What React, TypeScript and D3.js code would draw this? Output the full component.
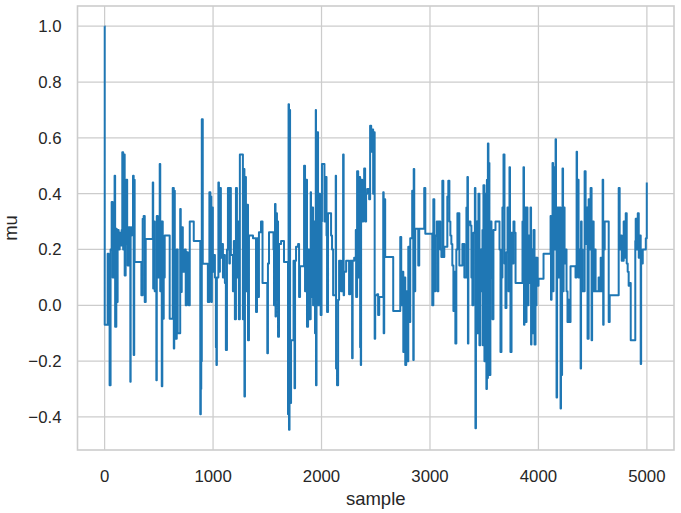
import React from "react";
import * as d3 from "d3";

// Trace of mu: sample index at which the chain moves, and the new value
const traceSample = [
  0, 1, 28, 37, 46, 55, 65, 74, 83, 92, 97, 108, 111, 120, 129, 139, 148, 157, 163, 171,
  176, 185, 194, 200, 208, 213, 222, 237, 240, 250, 262, 268, 273, 277, 339, 351, 360, 370, 379, 444,
  448, 453, 462, 477, 481, 490, 499, 508, 513, 517, 527, 532, 536, 545, 554, 600, 628, 638, 642, 647,
  656, 665, 674, 697, 702, 711, 721, 739, 748, 758, 767, 776, 785, 822, 882, 887, 891, 896, 905, 952,
  966, 975, 980, 984, 989, 998, 1008, 1017, 1026, 1031, 1035, 1049, 1054, 1063, 1072, 1082, 1091, 1100, 1109, 1118,
  1128, 1137, 1150, 1155, 1164, 1183, 1192, 1201, 1211, 1220, 1229, 1238, 1247, 1275, 1280, 1289, 1294, 1303, 1312, 1322,
  1331, 1368, 1396, 1405, 1419, 1423, 1442, 1456, 1500, 1506, 1516, 1557, 1562, 1571, 1576, 1580, 1589, 1594, 1599, 1608,
  1627, 1654, 1691, 1696, 1700, 1705, 1710, 1719, 1742, 1751, 1756, 1765, 1784, 1793, 1802, 1839, 1848, 1857, 1866, 1876,
  1885, 1900, 1903, 1912, 1922, 1931, 1940, 1947, 1949, 1954, 1959, 1968, 1977, 1986, 1992, 2000, 2004, 2027, 2036, 2046,
  2051, 2060, 2088, 2097, 2107, 2131, 2134, 2143, 2153, 2162, 2180, 2190, 2199, 2204, 2208, 2227, 2254, 2264, 2282, 2287,
  2301, 2316, 2319, 2328, 2338, 2347, 2356, 2362, 2365, 2375, 2384, 2393, 2402, 2411, 2421, 2439, 2448, 2458, 2467, 2476,
  2485, 2490, 2495, 2513, 2522, 2532, 2569, 2573, 2578, 2587, 2661, 2726, 2735, 2744, 2754, 2763, 2772, 2781, 2791, 2800,
  2809, 2818, 2836, 2846, 2850, 2855, 2864, 2892, 2901, 2947, 2957, 3021, 3031, 3040, 3049, 3063, 3068, 3077, 3095, 3105,
  3114, 3123, 3132, 3160, 3169, 3179, 3188, 3197, 3206, 3216, 3225, 3234, 3243, 3253, 3271, 3299, 3317, 3336, 3345, 3350,
  3354, 3373, 3382, 3391, 3400, 3414, 3419, 3424, 3428, 3437, 3447, 3456, 3465, 3474, 3484, 3488, 3493, 3502, 3511, 3520,
  3525, 3530, 3534, 3539, 3544, 3548, 3557, 3567, 3576, 3585, 3604, 3641, 3650, 3659, 3668, 3678, 3687, 3696, 3705, 3715,
  3724, 3733, 3738, 3742, 3752, 3761, 3770, 3779, 3789, 3853, 3862, 3867, 3871, 3881, 3890, 3899, 3908, 3918, 3927, 3932,
  3936, 3945, 3955, 3964, 3973, 3978, 3982, 3992, 4001, 4047, 4112, 4116, 4121, 4130, 4135, 4139, 4149, 4158, 4162, 4167,
  4172, 4176, 4185, 4195, 4204, 4208, 4213, 4218, 4222, 4227, 4232, 4241, 4250, 4259, 4268, 4278, 4287, 4296, 4342, 4352,
  4356, 4361, 4370, 4379, 4389, 4393, 4398, 4407, 4426, 4435, 4444, 4453, 4463, 4472, 4481, 4490, 4495, 4509, 4518, 4527,
  4555, 4565, 4574, 4583, 4592, 4597, 4601, 4611, 4648, 4657, 4740, 4749, 4758, 4768, 4786, 4795, 4805, 4814, 4823, 4832,
  4842, 4851, 4893, 4897, 4906, 4916, 4925, 4934, 4943, 4947, 4952, 4962, 4990, 4999,
];

const traceMu = [
  1.0, -0.07, 0.185, -0.07, -0.286, 0.2, 0.37, 0.1, 0.33, 0.464, -0.077, 0.274, 0.012, 0.27, 0.2, 0.26, 0.214, 0.27, 0.548, 0.2,
  0.54, 0.107, 0.3, 0.45, 0.22, 0.143, 0.28, -0.274, 0.25, 0.28, 0.464, -0.178, 0.45, 0.155, 0.036, 0.31, 0.32, 0.012, 0.238, 0.44,
  0.06, 0.3, 0.05, -0.268, 0.32, 0.1, 0.25, 0.506, 0.05, 0.3, -0.29, 0.3, -0.048, 0.1, 0.25, -0.048, 0.42, -0.155, 0.41, 0.1,
  -0.12, 0.2, -0.1, 0.345, 0.048, 0.28, 0.12, 0.2, 0.0, 0.19, 0.1, 0.0, 0.3, 0.23, -0.39, -0.3, -0.2, 0.667, 0.149, 0.012,
  0.405, 0.1, 0.39, 0.012, 0.35, 0.12, 0.18, 0.1, -0.15, -0.214, 0.1, 0.44, 0.12, 0.42, 0.17, 0.22, 0.1, 0.18, 0.08, -0.16,
  0.2, 0.42, 0.15, 0.42, 0.18, 0.05, 0.23, -0.05, 0.42, 0.1, 0.3, -0.05, 0.54, -0.05, 0.488, -0.327, 0.46, 0.05, 0.36, -0.125,
  0.25, 0.24, -0.024, 0.24, 0.03, 0.262, 0.3, 0.08, -0.172, 0.15, 0.262, 0.2, 0.0, 0.363, -0.04, 0.33, 0.02, 0.3, -0.113, 0.22,
  0.23, 0.155, -0.39, 0.72, -0.446, 0.7, -0.35, -0.125, 0.16, -0.297, 0.16, 0.21, 0.22, 0.03, 0.14, 0.5, 0.05, 0.45, -0.077, 0.2,
  -0.05, 0.405, 0.03, 0.35, 0.0, 0.3, -0.1, 0.7, -0.286, 0.35, 0.62, 0.0, 0.4, 0.05, -0.035, 0.3, 0.506, 0.3, 0.46, 0.25,
  -0.024, 0.33, 0.25, 0.2, 0.036, 0.464, -0.226, -0.286, 0.02, 0.16, 0.05, 0.16, 0.54, 0.036, 0.12, 0.16, 0.04, 0.16, -0.19, 0.16,
  0.17, 0.27, 0.03, 0.48, 0.1, 0.46, -0.15, -0.214, 0.45, 0.3, 0.35, 0.49, 0.3, 0.4, 0.417, 0.38, 0.643, 0.55, 0.63, 0.4,
  0.62, -0.12, 0.036, 0.04, -0.035, 0.03, 0.405, -0.1, 0.38, 0.173, -0.02, 0.245, 0.0, 0.12, -0.167, 0.1, -0.214, 0.05, -0.2, 0.21,
  -0.06, 0.24, 0.41, -0.196, 0.488, 0.05, 0.274, 0.143, 0.274, 0.42, 0.256, 0.0, 0.38, 0.05, 0.25, 0.3, 0.05, 0.3, 0.2, 0.173,
  0.446, 0.173, 0.21, 0.39, 0.446, 0.3, 0.25, 0.22, 0.143, -0.02, 0.12, -0.137, 0.2, 0.33, 0.143, 0.22, 0.1, 0.35, 0.46, -0.137,
  0.3, 0.286, 0.1, 0.0, 0.26, 0.42, -0.44, 0.1, 0.3, -0.1, 0.4, -0.143, 0.2, 0.05, 0.27, -0.143, 0.43, -0.2, 0.4, -0.3,
  0.45, -0.26, 0.58, 0.1, 0.51, -0.25, 0.3, 0.1, -0.05, 0.27, 0.3, 0.2, -0.167, 0.1, 0.35, 0.54, 0.15, -0.01, 0.19, 0.35,
  0.05, 0.495, 0.1, -0.167, 0.26, 0.15, 0.3, 0.26, 0.08, 0.3, 0.495, -0.07, 0.35, -0.06, 0.35, 0.0, 0.25, 0.08, 0.35, -0.14,
  0.2, -0.1, 0.27, -0.14, 0.17, 0.0, 0.17, 0.07, 0.095, 0.185, 0.32, 0.02, 0.3, 0.51, 0.05, 0.495, 0.2, 0.595, 0.25, -0.33,
  0.33, 0.35, 0.1, 0.35, -0.37, 0.2, -0.25, 0.3, 0.49, 0.05, 0.35, 0.15, 0.2, 0.05, -0.06, 0.02, -0.06, 0.14, 0.1, 0.55,
  0.2, 0.45, 0.1, 0.2, -0.226, 0.3, 0.2, 0.05, 0.48, 0.22, 0.35, -0.12, 0.38, 0.2, 0.42, -0.125, 0.3, 0.05, 0.2, 0.05,
  0.1, 0.05, 0.17, 0.05, 0.45, -0.07, 0.2, 0.3, -0.06, 0.036, 0.42, 0.2, 0.25, 0.16, 0.3, 0.17, 0.33, 0.15, 0.12, 0.07,
  0.08, -0.125, 0.23, 0.31, 0.2, 0.33, 0.17, 0.25, -0.21, 0.2, 0.15, 0.2, 0.24, 0.44,
];

const xTicks = [0, 1000, 2000, 3000, 4000, 5000];
const yTicks = [-0.4, -0.2, 0.0, 0.2, 0.4, 0.6, 0.8, 1.0];
const xLabel = "sample";
const yLabel = "mu";

const W = 681;
const H = 513;
const plotLeft = 77.5;
const plotRight = 674;
const plotTop = 6;
const plotBottom = 450;

export default function App() {
  const points: [number, number][] = traceSample.map((s, i) => [s, traceMu[i]]);
  const xMin = d3.min(traceSample)!;
  const xMax = d3.max(traceSample)! + 1;
  const xPad = (xMax - xMin) * 0.05;
  const yMin = d3.min(traceMu)!;
  const yMax = d3.max(traceMu)!;
  const yPad = (yMax - yMin) * 0.05;

  const x = d3.scaleLinear().domain([xMin - xPad, xMax + xPad]).range([plotLeft, plotRight]);
  const y = d3.scaleLinear().domain([yMin - yPad, yMax + yPad]).range([plotBottom, plotTop]);

  const line = d3
    .line<[number, number]>()
    .x((d) => x(d[0]))
    .y((d) => y(d[1]))
    .curve(d3.curveStepAfter);

  const font = "'Liberation Sans', Arial, sans-serif";
  const textColor = "#262626";
  const gridColor = "#cccccc";
  const fmt = (v: number) => v.toFixed(1).replace("-", "\u2212");

  return (
    <svg
      width={W}
      height={H}
      style={{ position: "absolute", left: 0, top: 0, background: "#ffffff" }}
      fontFamily={font}
    >
      <defs>
        <clipPath id="clip">
          <rect x={plotLeft} y={plotTop} width={plotRight - plotLeft} height={plotBottom - plotTop} />
        </clipPath>
      </defs>
      <rect x={0} y={0} width={W} height={H} fill="#ffffff" />
      {xTicks.map((t) => (
        <line key={"gx" + t} x1={x(t)} x2={x(t)} y1={plotTop} y2={plotBottom} stroke={gridColor} strokeWidth={1.25} />
      ))}
      {yTicks.map((t) => (
        <line key={"gy" + t} x1={plotLeft} x2={plotRight} y1={y(t)} y2={y(t)} stroke={gridColor} strokeWidth={1.25} />
      ))}
      <path
        d={line(points) || ""}
        fill="none"
        stroke="#1f77b4"
        strokeWidth={2}
        strokeLinejoin="round"
        clipPath="url(#clip)"
      />
      <rect
        x={plotLeft}
        y={plotTop}
        width={plotRight - plotLeft}
        height={plotBottom - plotTop}
        fill="none"
        stroke={gridColor}
        strokeWidth={1.6}
      />
      {xTicks.map((t) => (
        <text key={"tx" + t} x={x(t)} y={481.5} textAnchor="middle" fontSize={16.8} fill={textColor}>
          {t}
        </text>
      ))}
      {yTicks.map((t) => (
        <text key={"ty" + t} x={61.5} y={y(t) + 6} textAnchor="end" fontSize={16.8} fill={textColor}>
          {fmt(t)}
        </text>
      ))}
      <text x={(plotLeft + plotRight) / 2} y={505} textAnchor="middle" fontSize={18.5} fill={textColor}>
        {xLabel}
      </text>
      <text
        transform={`translate(17, ${(plotTop + plotBottom) / 2}) rotate(-90)`}
        textAnchor="middle"
        fontSize={18.5}
        fill={textColor}
      >
        {yLabel}
      </text>
    </svg>
  );
}
